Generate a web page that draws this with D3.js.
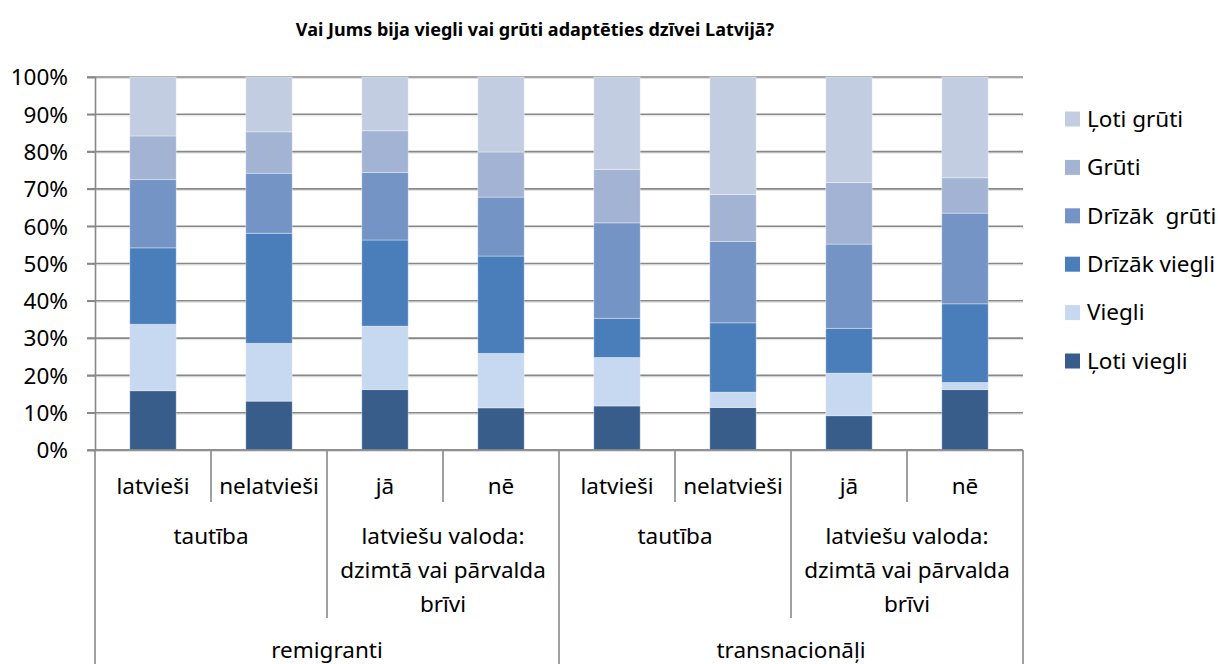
<!DOCTYPE html>
<html>
<head>
<meta charset="utf-8">
<script src="https://cdn.jsdelivr.net/npm/d3@7"></script>
<style>
  body { margin: 0; background: #fff; }
  text { font-family: "Noto Sans", sans-serif; fill: #000; }
</style>
</head>
<body>
<svg id="chart"></svg>
<script>
// categories (bottom level), then the two upper levels
var categories = ["latvieši", "nelatvieši", "jā", "nē", "latvieši", "nelatvieši", "jā", "nē"];
var groups = [["tautība"], ["latviešu valoda:", "dzimtā vai pārvalda", "brīvi"],
              ["tautība"], ["latviešu valoda:", "dzimtā vai pārvalda", "brīvi"]];
var topGroups = ["remigranti", "transnacionāļi"];

// series, bottom to top (percent)
var seriesNames = ["Ļoti viegli", "Viegli", "Drīzāk viegli", "Drīzāk  grūti", "Grūti", "Ļoti grūti"];
var lotiViegli   = [15.9, 13.1, 16.2, 11.3, 11.8, 11.4,  9.2, 16.2];
var viegli       = [17.8, 15.5, 17.0, 14.6, 13.0,  4.1, 11.4,  1.9];
var drizakViegli = [20.5, 29.5, 23.1, 26.1, 10.5, 18.6, 12.0, 21.1];
var drizakGruti  = [18.3, 16.1, 18.1, 15.8, 25.6, 21.8, 22.6, 24.3];
var gruti        = [11.7, 11.1, 11.2, 12.1, 14.3, 12.6, 16.5,  9.5];
var lotiGruti    = [15.8, 14.7, 14.4, 20.1, 24.8, 31.5, 28.3, 27.0];

var yTicks = [0, 0.1, 0.2, 0.3, 0.4, 0.5, 0.6, 0.7, 0.8, 0.9, 1];

var colors = ["#385D8A", "#C6D9F1", "#4A7EBB", "#7394C5", "#A2B3D4", "#C3CDE2"];

var width = 1218;
var height = 664;
var plotLeft = 95, plotRight = 1023, plotTop = 77, plotBottom = 450;
var fontSize = "22.5px";

var svg = d3.select("#chart")
  .attr("width", width)
  .attr("height", height);

// build rows for the stack
var allSeries = [lotiViegli, viegli, drizakViegli, drizakGruti, gruti, lotiGruti];
var rows = categories.map(function (c, i) {
  var r = { idx: i };
  seriesNames.forEach(function (s, j) { r[s] = allSeries[j][i]; });
  return r;
});

var stacked = d3.stack()
  .keys(seriesNames)
  .offset(d3.stackOffsetExpand)(rows);

var x = d3.scaleBand()
  .domain(d3.range(categories.length))
  .range([plotLeft, plotRight])
  .paddingInner(0.6)
  .paddingOuter(0.3);

var step = x.step();

var y = d3.scaleLinear()
  .domain([0, 1])
  .range([plotBottom, plotTop]);

// title
svg.append("text")
  .text("Vai Jums bija viegli vai grūti adaptēties dzīvei Latvijā?")
  .attr("x", 535)
  .attr("y", 36)
  .attr("text-anchor", "middle")
  .attr("font-size", "18px")
  .attr("font-weight", "bold");

// gridlines
var grid = svg.append("g");
yTicks.forEach(function (t) {
  grid.append("line")
    .attr("x1", plotLeft).attr("x2", plotRight)
    .attr("y1", y(t) + 1.5).attr("y2", y(t) + 1.5)
    .attr("stroke", "#e0e0e0")
    .attr("stroke-width", 1);
  grid.append("line")
    .attr("x1", plotLeft - 8).attr("x2", plotRight)
    .attr("y1", y(t)).attr("y2", y(t))
    .attr("stroke", "#888")
    .attr("stroke-width", 1.6);
});

// y axis
var yAxis = svg.append("g")
  .attr("transform", "translate(" + plotLeft + ",0)")
  .call(d3.axisLeft(y).tickValues(yTicks).tickFormat(d3.format(".0%")).tickSize(8).tickPadding(19));
yAxis.select(".domain").attr("stroke", "#888").attr("stroke-width", 1.6);
yAxis.selectAll(".tick line").attr("stroke", "#888").attr("stroke-width", 1.6);
yAxis.selectAll(".tick text")
  .attr("font-size", fontSize)
  .attr("font-family", "Noto Sans, sans-serif")
  .attr("fill", "#000")
  .attr("dy", "0.35em");

// bars
var bars = svg.append("g");
stacked.forEach(function (layer, j) {
  bars.selectAll(null)
    .data(layer)
    .enter()
    .append("rect")
    .attr("x", function (d) { return x(d.data.idx); })
    .attr("width", x.bandwidth())
    .attr("y", function (d) { return y(d[1]); })
    .attr("height", function (d) { return y(d[0]) - y(d[1]); })
    .attr("fill", colors[j])
    .attr("stroke", "#ffffff")
    .attr("stroke-opacity", 0.35)
    .attr("stroke-width", 1);
});

// x axis line and divider lines
var xAxis = svg.append("g");
xAxis.append("line")
  .attr("x1", plotLeft).attr("x2", plotRight)
  .attr("y1", plotBottom).attr("y2", plotBottom)
  .attr("stroke", "#888").attr("stroke-width", 1.6);

for (var k = 0; k <= categories.length; k++) {
  var xx = plotLeft + k * step;
  var yEnd = 502;
  if (k % 4 === 0) yEnd = height;
  else if (k % 2 === 0) yEnd = 618;
  xAxis.append("line")
    .attr("x1", xx).attr("x2", xx)
    .attr("y1", plotBottom).attr("y2", yEnd)
    .attr("stroke", "#888").attr("stroke-width", 1.6);
}

// level 1 labels
categories.forEach(function (c, i) {
  xAxis.append("text")
    .text(c)
    .attr("x", x(i) + x.bandwidth() / 2)
    .attr("y", 494)
    .attr("text-anchor", "middle")
    .attr("font-size", fontSize);
});

// level 2 labels
groups.forEach(function (g, i) {
  g.forEach(function (line, li) {
    xAxis.append("text")
      .text(line)
      .attr("x", plotLeft + (i * 2 + 1) * step)
      .attr("y", 544 + li * 34)
      .attr("text-anchor", "middle")
      .attr("font-size", fontSize);
  });
});

// level 3 labels
topGroups.forEach(function (g, i) {
  xAxis.append("text")
    .text(g)
    .attr("x", plotLeft + (i * 4 + 2) * step)
    .attr("y", 658)
    .attr("text-anchor", "middle")
    .attr("font-size", fontSize);
});

// legend, top item is the last series
var legend = svg.append("g");
seriesNames.slice().reverse().forEach(function (s, i) {
  var cy = 119 + i * 48.4;
  legend.append("rect")
    .attr("x", 1065)
    .attr("y", cy - 7.5)
    .attr("width", 15)
    .attr("height", 15)
    .attr("fill", colors[seriesNames.length - 1 - i]);
  legend.append("text")
    .text(s)
    .attr("x", 1087)
    .attr("y", cy)
    .attr("dy", "0.35em")
    .attr("font-size", fontSize)
    .style("white-space", "pre");
});
</script>
</body>
</html>
